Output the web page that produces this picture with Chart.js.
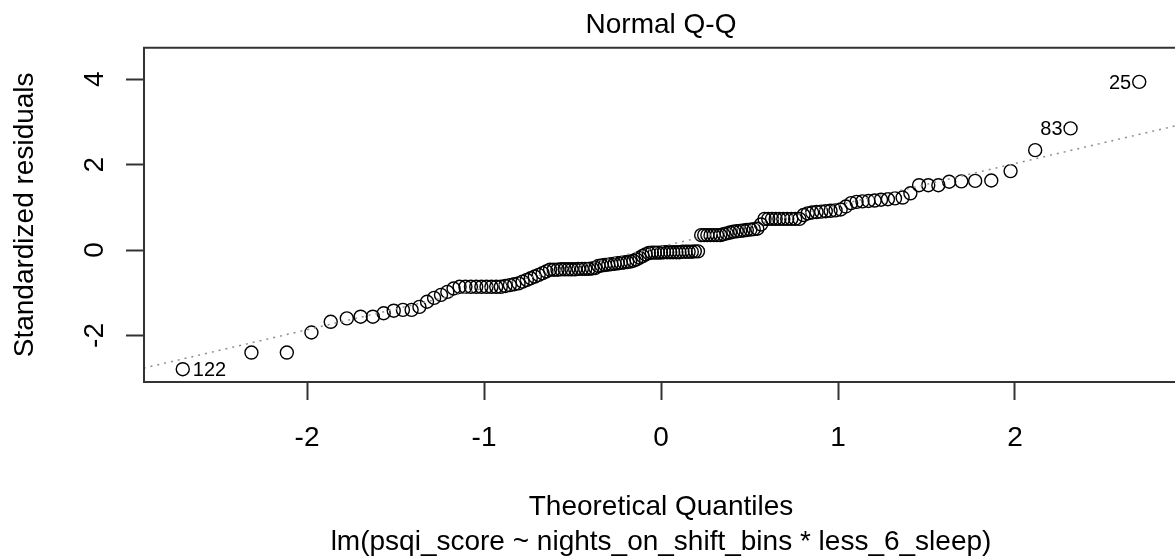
<!DOCTYPE html>
<html>
<head>
<meta charset="utf-8">
<script src="https://cdn.jsdelivr.net/npm/chart.js@4.4.1/dist/chart.umd.min.js"></script>
<style>
  html, body { margin: 0; padding: 0; background: #fff; overflow: hidden; }
  canvas { display: block; }
</style>
</head>
<body>
<canvas id="qq" width="1175" height="560"></canvas>
<script>
// Theoretical quantiles (x) and sorted standardized residuals (y)
const theoQuantiles = [
  -2.702, -2.314, -2.114, -1.975, -1.866, -1.775, -1.697, -1.628, -1.567, -1.510,
  -1.458, -1.409, -1.365, -1.322, -1.282, -1.243, -1.207, -1.172, -1.138, -1.105,
  -1.074, -1.044, -1.015, -0.986, -0.958, -0.931, -0.905, -0.879, -0.854, -0.829,
  -0.805, -0.782, -0.758, -0.736, -0.713, -0.691, -0.669, -0.648, -0.627, -0.606,
  -0.585, -0.565, -0.544, -0.524, -0.505, -0.485, -0.466, -0.447, -0.428, -0.409,
  -0.390, -0.371, -0.353, -0.335, -0.316, -0.298, -0.280, -0.262, -0.244, -0.227,
  -0.209, -0.191, -0.174, -0.156, -0.139, -0.121, -0.104, -0.087, -0.069, -0.052,
  -0.035, -0.017, 0,
  0.017, 0.035, 0.052, 0.069, 0.087, 0.104, 0.121, 0.139, 0.156, 0.174,
  0.191, 0.209, 0.227, 0.244, 0.262, 0.280, 0.298, 0.316, 0.335, 0.353,
  0.371, 0.390, 0.409, 0.428, 0.447, 0.466, 0.485, 0.505, 0.524, 0.544,
  0.565, 0.585, 0.606, 0.627, 0.648, 0.669, 0.691, 0.713, 0.736, 0.758,
  0.782, 0.805, 0.829, 0.854, 0.879, 0.905, 0.931, 0.958, 0.986, 1.015,
  1.044, 1.074, 1.105, 1.138, 1.172, 1.207, 1.243, 1.282, 1.322, 1.365,
  1.409, 1.458, 1.510, 1.567, 1.628, 1.697, 1.775, 1.866, 1.975, 2.114,
  2.314, 2.702
];

const stdResiduals = [
  -2.79, -2.40, -2.40, -1.93, -1.68, -1.60, -1.56, -1.56, -1.48, -1.42,
  -1.40, -1.40, -1.33, -1.21, -1.12, -1.05, -0.98, -0.90,
  -0.86, -0.86, -0.86, -0.86, -0.86, -0.86, -0.86, -0.86, -0.86,
  -0.84, -0.82, -0.80, -0.78, -0.74, -0.70, -0.66, -0.62, -0.58, -0.54, -0.50,
  -0.46, -0.46, -0.46, -0.45, -0.45, -0.45, -0.45, -0.45, -0.44, -0.44, -0.44, -0.44, -0.43, -0.42,
  -0.37, -0.36, -0.35, -0.34, -0.33, -0.32, -0.31, -0.30, -0.29, -0.28, -0.27, -0.25,
  -0.22, -0.18, -0.14, -0.10, -0.07,
  -0.06, -0.06, -0.06, -0.06, -0.05, -0.05, -0.05, -0.05, -0.05, -0.05, -0.04, -0.04, -0.04, -0.04, -0.03, -0.03,
  0.35, 0.35, 0.35, 0.35, 0.35, 0.35, 0.35,
  0.37, 0.39, 0.41, 0.43, 0.44, 0.45, 0.46, 0.47, 0.48, 0.49, 0.50,
  0.60,
  0.73, 0.73, 0.73, 0.73, 0.73, 0.73, 0.73, 0.73, 0.73, 0.73,
  0.82, 0.86, 0.88, 0.89, 0.90, 0.91, 0.92, 0.93, 0.95,
  1.02, 1.10, 1.13, 1.14, 1.15, 1.16, 1.18, 1.19, 1.21, 1.23,
  1.33, 1.52, 1.52, 1.52, 1.60, 1.61, 1.62, 1.63, 1.85,
  2.34, 2.85, 3.94
];

// dotted qqline end points
const qqLineX = [-3, 3];
const qqLineY = [-2.84, 3.00];

// observation numbers printed next to the extreme points
const outlierRanks = [0, 143, 144];
const outlierLabels = ['122', '83', '25'];

const xTicks = [-2, -1, 0, 1, 2];
const xTickLabels = ['-2', '-1', '0', '1', '2'];
const yTicks = [-2, 0, 2, 4];
const yTickLabels = ['-2', '0', '2', '4'];

const titleText = 'Normal Q-Q';
const xTitle = 'Theoretical Quantiles';
const subTitle = 'lm(psqi_score ~ nights_on_shift_bins * less_6_sleep)';
const yTitle = 'Standardized residuals';

const FONT = '"Liberation Sans", Arial, Helvetica, sans-serif';

// box, texts and point labels drawn the way base R lays them out
const rDecor = {
    id: 'rDecor',
    afterDraw(chart) {
        const { ctx, chartArea: a, scales } = chart;
        const xs = scales.x, ys = scales.y;
        ctx.save();
        // plot box; its right side falls just outside the picture
        ctx.strokeStyle = '#333';
        ctx.lineWidth = 2;
        ctx.beginPath();
        ctx.moveTo(a.right + 5, a.top);
        ctx.lineTo(a.left, a.top);
        ctx.lineTo(a.left, a.bottom);
        ctx.lineTo(a.right + 5, a.bottom);
        ctx.stroke();

        ctx.fillStyle = '#000';
        ctx.textBaseline = 'alphabetic';
        ctx.textAlign = 'center';
        ctx.font = '28px ' + FONT;
        const cx = xs.getPixelForValue(0);
        ctx.fillText(titleText, cx, 33);
        ctx.fillText(xTitle, cx, 515);
        ctx.fillText(subTitle, cx, 550);

        xTicks.forEach((v, i) => {
            ctx.fillText(xTickLabels[i], xs.getPixelForValue(v), 446);
        });

        yTicks.forEach((v, i) => {
            ctx.save();
            ctx.translate(103, ys.getPixelForValue(v));
            ctx.rotate(-Math.PI / 2);
            ctx.fillText(yTickLabels[i], 0, 0);
            ctx.restore();
        });

        ctx.save();
        ctx.translate(33, (a.top + a.bottom) / 2);
        ctx.rotate(-Math.PI / 2);
        ctx.fillText(yTitle, 0, 0);
        ctx.restore();

        ctx.font = '20px ' + FONT;
        outlierRanks.forEach((r, i) => {
            const px = xs.getPixelForValue(theoQuantiles[r]);
            const py = ys.getPixelForValue(stdResiduals[r]);
            if (theoQuantiles[r] < 0) {
                ctx.textAlign = 'left';
                ctx.fillText(outlierLabels[i], px + 10, py + 7);
            } else {
                ctx.textAlign = 'right';
                ctx.fillText(outlierLabels[i], px - 8, py + 7);
            }
        });
        ctx.restore();
    }
};

const ctx = document.getElementById('qq').getContext('2d');
new Chart(ctx, {
    type: 'scatter',
    data: {
        datasets: [
            {
                type: 'line',
                data: qqLineX.map((v, i) => ({ x: v, y: qqLineY[i] })),
                borderColor: '#8c8c8c',
                borderWidth: 1.5,
                borderDash: [2, 5],
                pointRadius: 0,
                fill: false
            },
            {
                data: theoQuantiles.map((v, i) => ({ x: v, y: stdResiduals[i] })),
                pointRadius: 6.5,
                pointBorderWidth: 1.4,
                borderColor: '#000',
                backgroundColor: 'rgba(0,0,0,0)',
                pointBackgroundColor: 'rgba(0,0,0,0)'
            }
        ]
    },
    options: {
        responsive: false,
        animation: false,
        devicePixelRatio: 1,
        layout: { autoPadding: false, padding: { left: 0, right: 0, top: 47.7, bottom: 0 } },
        plugins: {
            legend: { display: false },
            tooltip: { enabled: false },
            title: { display: false }
        },
        scales: {
            x: {
                type: 'linear',
                min: -2.921,
                max: 2.904,
                afterBuildTicks: (s) => { s.ticks = xTicks.map(v => ({ value: v })); },
                afterFit: (s) => { s.height = 178; },
                ticks: { display: false },
                border: { display: false },
                grid: { drawOnChartArea: false, drawTicks: true, tickLength: 18, tickColor: '#333', tickWidth: 2 }
            },
            y: {
                type: 'linear',
                min: -3.09,
                max: 4.74,
                afterBuildTicks: (s) => { s.ticks = yTicks.map(v => ({ value: v })); },
                afterFit: (s) => { s.width = 144; },
                ticks: { display: false },
                border: { display: false },
                grid: { drawOnChartArea: false, drawTicks: true, tickLength: 18, tickColor: '#333', tickWidth: 2 }
            }
        }
    },
    plugins: [rDecor]
});
</script>
</body>
</html>
